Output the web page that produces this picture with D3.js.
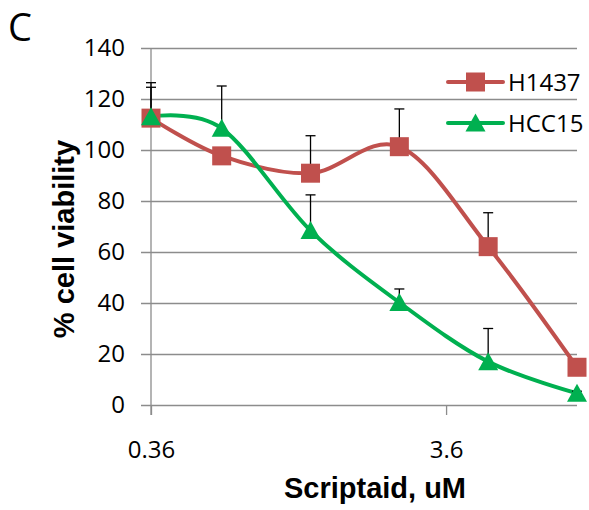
<!DOCTYPE html>
<html>
<head>
<meta charset="utf-8">
<script src="https://cdn.jsdelivr.net/npm/d3@7/dist/d3.min.js"></script>
<style>
  html, body { margin: 0; padding: 0; background: #fff; }
  svg { display: block; }
  .tick text { font-family: "Open Sans", sans-serif; fill: #000; }
</style>
</head>
<body>
<div id="chart"></div>
<script>
// ---- data ----
const concentrations = [0.36, 0.625, 1.25, 2.5, 5, 10];
const h1437 = [112.5, 97.7, 90.9, 101.3, 62.1, 14.8];
const h1437Err = [13.9, 2, 14.7, 14.8, 13.3, 1];
const hcc15 = [113, 108.5, 68.4, 40.2, 17, 4.6];
const hcc15Err = [11.6, 16.6, 14, 5.3, 13, 0.8];
const yTicks = [0, 20, 40, 60, 80, 100, 120, 140];
const xTicks = [0.36, 3.6];
const xTickLabels = ['0.36', '3.6'];

const series = [
  { name: 'H1437', values: h1437, err: h1437Err, color: '#c0504d', marker: 'square' },
  { name: 'HCC15', values: hcc15, err: hcc15Err, color: '#00b050', marker: 'triangle' }
];

const W = 589, H = 510;
const plotLeft = 151, plotRight = 577, plotTop = 48, plotBottom = 405;

const svg = d3.select('#chart').append('svg').attr('width', W).attr('height', H);

const x = d3.scaleLog().domain([0.36, 10]).range([plotLeft, plotRight]);
const y = d3.scaleLinear().domain([0, 140]).range([plotBottom, plotTop]);

// gridlines + y labels
const yAxis = svg.append('g')
  .attr('transform', 'translate(' + (plotLeft - 10) + ',0)')
  .call(d3.axisLeft(y).tickValues(yTicks).tickSize(-(plotRight - plotLeft + 10)).tickPadding(16));
yAxis.select('.domain').remove();
yAxis.selectAll('.tick line').attr('stroke', '#8c8c8c').attr('stroke-width', 1.3);
yAxis.selectAll('.tick text').attr('font-size', 24);

// vertical axis line
svg.append('line')
  .attr('x1', plotLeft).attr('x2', plotLeft)
  .attr('y1', y(140)).attr('y2', plotBottom + 10)
  .attr('stroke', '#8c8c8c').attr('stroke-width', 1.3);

// x axis
const xAxis = svg.append('g')
  .attr('transform', 'translate(0,' + plotBottom + ')')
  .call(d3.axisBottom(x).tickValues(xTicks)
    .tickFormat(function (d, i) { return xTickLabels[i]; })
    .tickSize(10).tickPadding(26));
xAxis.select('.domain').remove();
xAxis.selectAll('.tick line').attr('stroke', '#8c8c8c').attr('stroke-width', 1.3);
xAxis.selectAll('.tick text').attr('font-size', 24);

// lines
const line = d3.line()
  .x(function (d, i) { return x(concentrations[i]); })
  .y(function (d) { return y(d); })
  .curve(d3.curveCardinal.tension(0));

series.forEach(function (s) {
  svg.append('path')
    .attr('d', line(s.values))
    .attr('fill', 'none')
    .attr('stroke', s.color)
    .attr('stroke-width', 4)
    .attr('stroke-linejoin', 'round');
});

// error bars (positive only)
series.forEach(function (s) {
  const g = svg.append('g');
  s.values.forEach(function (v, i) {
    const cx = x(concentrations[i]);
    g.append('line').attr('x1', cx).attr('x2', cx)
      .attr('y1', y(v)).attr('y2', y(v + s.err[i]))
      .attr('stroke', '#000').attr('stroke-width', 1.3);
    g.append('line').attr('x1', cx - 5).attr('x2', cx + 5)
      .attr('y1', y(v + s.err[i])).attr('y2', y(v + s.err[i]))
      .attr('stroke', '#000').attr('stroke-width', 1.3);
  });
});

// markers
function drawMarker(g, type, cx, cy, color) {
  if (type === 'square') {
    g.append('rect').attr('x', cx - 9.5).attr('y', cy - 9.5)
      .attr('width', 19).attr('height', 19).attr('fill', color);
  } else {
    g.append('path')
      .attr('d', 'M' + cx + ',' + (cy - 9.5) + 'L' + (cx + 10) + ',' + (cy + 8.5) + 'L' + (cx - 10) + ',' + (cy + 8.5) + 'Z')
      .attr('fill', color);
  }
}
series.forEach(function (s) {
  const g = svg.append('g');
  s.values.forEach(function (v, i) {
    drawMarker(g, s.marker, x(concentrations[i]), y(v), s.color);
  });
});

// legend
series.forEach(function (s, i) {
  const ly = 82 + i * 41;
  const g = svg.append('g');
  g.append('line').attr('x1', 448).attr('x2', 503).attr('y1', ly).attr('y2', ly)
    .attr('stroke', s.color).attr('stroke-width', 4).attr('stroke-linecap', 'round');
  drawMarker(g, s.marker, 475.5, ly, s.color);
  g.append('text').attr('x', 508).attr('y', ly + 9)
    .attr('font-family', '"Open Sans", sans-serif').attr('font-size', 24)
    .text(s.name);
});

// axis titles
svg.append('text')
  .attr('transform', 'translate(74,239) rotate(-90)')
  .attr('text-anchor', 'middle')
  .attr('font-family', '"Liberation Sans", Arial, sans-serif')
  .attr('font-weight', 'bold').attr('font-size', 29)
  .text('% cell viability');

svg.append('text')
  .attr('x', 375).attr('y', 498)
  .attr('text-anchor', 'middle')
  .attr('font-family', '"Liberation Sans", Arial, sans-serif')
  .attr('font-weight', 'bold').attr('font-size', 29)
  .text('Scriptaid, uM');

// panel letter
svg.append('text')
  .attr('x', 8).attr('y', 41)
  .attr('font-family', '"Open Sans", sans-serif').attr('font-size', 38)
  .text('C');
</script>
</body>
</html>
